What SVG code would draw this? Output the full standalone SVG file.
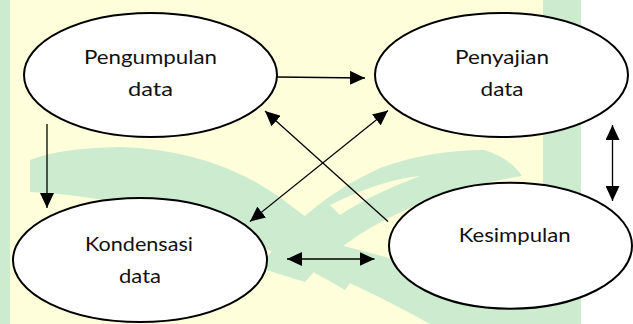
<svg xmlns="http://www.w3.org/2000/svg" width="633" height="324" viewBox="0 0 633 324">
<style>
.bgY{fill:#FEFEDA}
.bgG{fill:#CDEBCF}
.node ellipse{fill:#FFFFFF;stroke:#000000;stroke-width:2}
.node text{font-family:Lato,"Liberation Sans",sans-serif;font-size:19px;fill:#111111;text-anchor:middle}
.conn line{stroke:#000000;stroke-width:1.3;fill:none}
</style>
<defs>
<marker id="ah" viewBox="0 0 15 14" markerWidth="15" markerHeight="14" refX="15" refY="7" orient="auto-start-reverse" markerUnits="userSpaceOnUse">
<path d="M0,0 L15,7 L0,14 Z" fill="#000000"/>
</marker>
</defs>
<g id="background">
<rect x="0" y="0" width="633" height="324" fill="#FFFFFF"/>
<rect class="bgY" x="0" y="0" width="581" height="324"/>
<rect class="bgG" x="0" y="0" width="10" height="324"/>
<rect class="bgG" x="543" y="0" width="38" height="324"/>
<path class="bgG" d="M30,160 Q60,148 120,147 Q220,150 290,205 Q330,235 365,262 L345,290 Q270,245 185,218 Q100,195 30,192 Z"/>
<path class="bgG" d="M484,150 Q510,158 522,176 Q440,188 370,228 Q330,252 305,282 L260,268 Q300,205 380,168 Q430,150 484,150 Z"/>
<path class="bgG" d="M290,232 Q380,255 545,300 L545,324 L430,324 Q360,285 300,262 Z"/>
<path class="bgY" d="M330,205 Q380,180 420,176 Q370,195 340,215 Z"/>
</g>
<g class="conn" id="connectors">
<line x1="277" y1="77" x2="365" y2="78" marker-end="url(#ah)"/>
<line x1="47" y1="124" x2="47" y2="208" marker-end="url(#ah)"/>
<line x1="388" y1="221.5" x2="265" y2="111" marker-end="url(#ah)"/>
<line x1="250" y1="221.5" x2="388" y2="110.5" marker-start="url(#ah)" marker-end="url(#ah)"/>
<line x1="287" y1="259" x2="374.5" y2="259" marker-start="url(#ah)" marker-end="url(#ah)"/>
<line x1="612.5" y1="125" x2="612.5" y2="201" stroke-width="1.6" marker-start="url(#ah)" marker-end="url(#ah)"/>
</g>
<g class="node" id="pengumpulan">
<ellipse cx="150.5" cy="75" rx="126.5" ry="62"/>
<text x="150.5" y="64" textLength="133" lengthAdjust="spacingAndGlyphs">Pengumpulan</text>
<text x="150.5" y="96" textLength="45" lengthAdjust="spacingAndGlyphs">data</text>
</g>
<g class="node" id="penyajian">
<ellipse cx="501.5" cy="75" rx="126.5" ry="62"/>
<text x="502" y="64" textLength="94" lengthAdjust="spacingAndGlyphs">Penyajian</text>
<text x="502" y="96" textLength="43" lengthAdjust="spacingAndGlyphs">data</text>
</g>
<g class="node" id="kondensasi">
<ellipse cx="140" cy="260" rx="127" ry="62"/>
<text x="139" y="251" textLength="108" lengthAdjust="spacingAndGlyphs">Kondensasi</text>
<text x="140" y="283" textLength="42" lengthAdjust="spacingAndGlyphs">data</text>
</g>
<g class="node" id="kesimpulan">
<ellipse cx="510.5" cy="245.7" rx="121.5" ry="63"/>
<text x="514.7" y="242" textLength="112" lengthAdjust="spacingAndGlyphs">Kesimpulan</text>
</g>
</svg>
